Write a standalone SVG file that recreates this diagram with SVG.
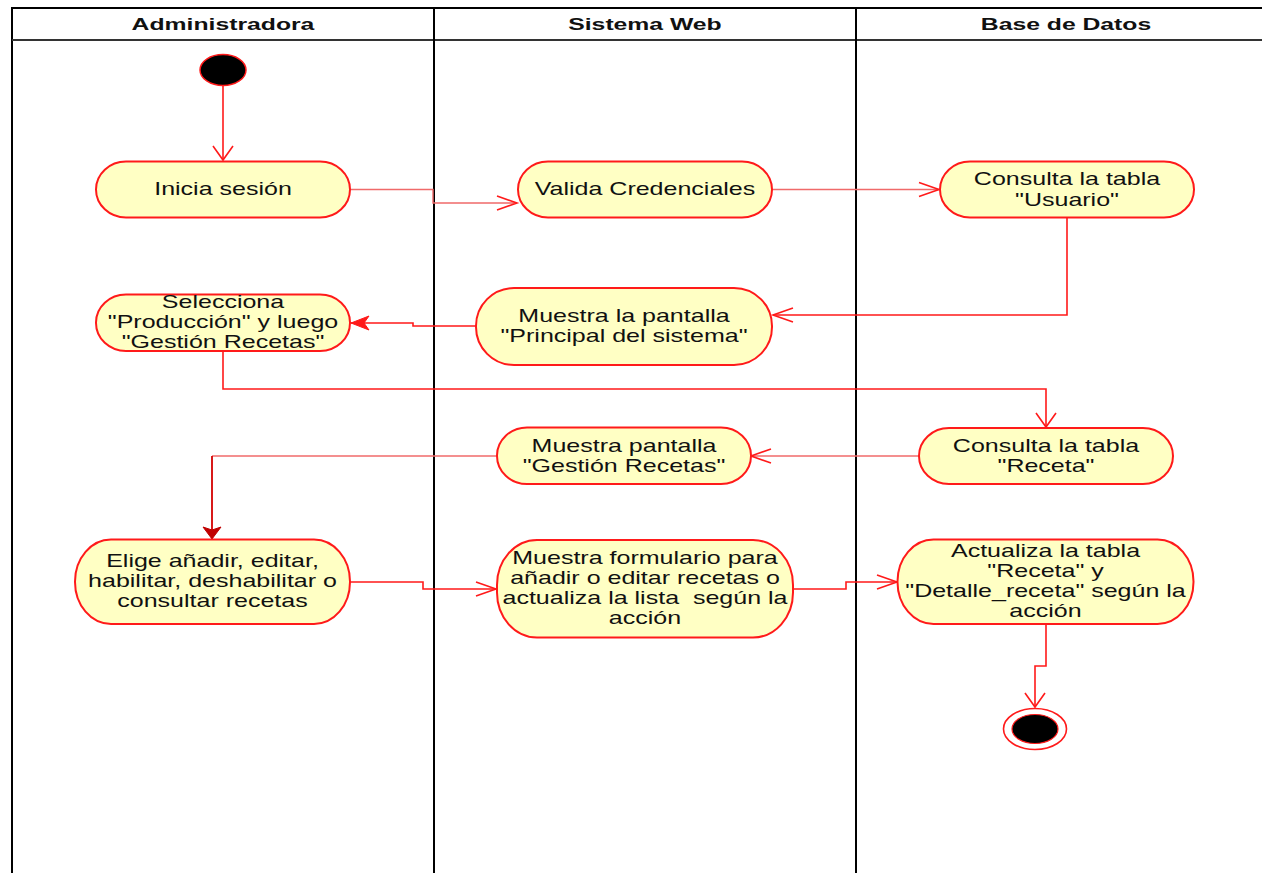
<svg xmlns="http://www.w3.org/2000/svg" width="1262" height="873" viewBox="0 0 1262 873">
<style>
.lane{stroke:#000;stroke-width:2;fill:none}
.hdr{font-family:"Liberation Sans",Arial,sans-serif;font-weight:bold;font-size:16.5px;fill:#111;text-anchor:middle}
.node{fill:#ffffc4;stroke:#ff1a1a;stroke-width:2}
.t{font-family:"Liberation Sans",Arial,sans-serif;font-size:17.5px;fill:#111;text-anchor:middle}
.c{fill:none;stroke:#ff1a1a;stroke-width:1.6}
.cl{fill:none;stroke:#f06a6a;stroke-width:1.4}
</style>
<defs>
<marker id="openH" markerUnits="userSpaceOnUse" markerWidth="22" markerHeight="18" refX="20" refY="8" orient="auto" overflow="visible">
<path d="M0,1 L20,8 L0,15" fill="none" stroke="#ff1a1a" stroke-width="1.6"/>
</marker>
<marker id="openV" markerUnits="userSpaceOnUse" markerWidth="16" markerHeight="24" refX="14" refY="10" orient="auto" overflow="visible">
<path d="M0,0 L14,10 L0,20" fill="none" stroke="#ff1a1a" stroke-width="1.6"/>
</marker>
<marker id="fillH" markerUnits="userSpaceOnUse" markerWidth="20" markerHeight="16" refX="18" refY="7" orient="auto" overflow="visible">
<path d="M0,0 L18,7 L0,14 L5,7 Z" fill="#ff1a1a" stroke="#ff1a1a" stroke-width="1"/>
</marker>
<marker id="fillV" markerUnits="userSpaceOnUse" markerWidth="16" markerHeight="22" refX="12" refY="9" orient="auto" overflow="visible">
<path d="M0,0 L12,9 L0,18 L3,9 Z" fill="#c00000" stroke="#c00000" stroke-width="1"/>
</marker>
</defs>

<g id="lanes">
<path class="lane" d="M12,873 V8 H1262"/>
<path d="M12,40 H1262" stroke="#333" stroke-width="2"/>
<path class="lane" d="M434,8 V873"/>
<path class="lane" d="M856,8 V873"/>
<text class="hdr" transform="translate(223 0) scale(1.5 1)" x="0" y="30">Administradora</text>
<text class="hdr" transform="translate(645 0) scale(1.5 1)" x="0" y="30">Sistema Web</text>
<text class="hdr" transform="translate(1066 0) scale(1.5 1)" x="0" y="30">Base de Datos</text>
</g>

<g id="connectors">
<path class="c" d="M223,86 V160" marker-end="url(#openV)"/>
<path class="cl" d="M350,189.5 H433 V203 H517" marker-end="url(#openH)"/>
<path class="cl" d="M772,189.5 H939" marker-end="url(#openH)"/>
<path class="c" stroke-width="2" d="M1067,217 V315 H773" marker-end="url(#openH)"/>
<path class="c" d="M476,326 H413 V323 H351" marker-end="url(#fillH)"/>
<path class="c" d="M223,351 V389 H1046 V427" marker-end="url(#openV)"/>
<path class="cl" d="M919,456 H751" marker-end="url(#openH)"/>
<path class="cl" d="M497,456 H212"/>
<path fill="none" stroke="#d40000" stroke-width="1.8" d="M212,456 V539" marker-end="url(#fillV)"/>
<path class="c" d="M350,582 H423 V589 H496" marker-end="url(#openH)"/>
<path class="c" d="M793,589 H846 V582 H897" marker-end="url(#openH)"/>
<path class="c" d="M1046,624 V666 H1035 V707" marker-end="url(#openV)"/>
</g>

<g id="start">
<ellipse cx="223" cy="70" rx="23" ry="15.5" fill="#000" stroke="#ff1a1a" stroke-width="1.5"/>
</g>

<g id="n1">
<rect class="node" x="96" y="161.5" width="254" height="56" rx="30" ry="28"/>
<text class="t" transform="translate(223 0) scale(1.43 1)"><tspan x="0" y="195">Inicia sesión</tspan></text>
</g>

<g id="n2">
<rect class="node" x="518" y="161.5" width="254" height="56" rx="30" ry="28"/>
<text class="t" transform="translate(645 0) scale(1.43 1)"><tspan x="0" y="195">Valida Credenciales</tspan></text>
</g>

<g id="n3">
<rect class="node" x="940" y="161.5" width="254" height="56" rx="30" ry="28"/>
<text class="t" transform="translate(1067 0) scale(1.43 1)"><tspan x="0" y="185">Consulta la tabla</tspan><tspan x="0" y="206">"Usuario"</tspan></text>
</g>

<g id="n4">
<rect class="node" x="96" y="294.5" width="254" height="56.5" rx="30" ry="28"/>
<text class="t" transform="translate(223 0) scale(1.43 1)"><tspan x="0" y="308">Selecciona</tspan><tspan x="0" y="328.5">"Producción" y luego</tspan><tspan x="0" y="348.5">"Gestión Recetas"</tspan></text>
</g>

<g id="n5">
<rect class="node" x="476" y="288" width="296" height="77" rx="38" ry="38"/>
<text class="t" transform="translate(624 0) scale(1.43 1)"><tspan x="0" y="322">Muestra la pantalla</tspan><tspan x="0" y="342.5">"Principal del sistema"</tspan></text>
</g>

<g id="n6">
<rect class="node" x="919" y="428" width="254" height="56" rx="30" ry="28"/>
<text class="t" transform="translate(1046 0) scale(1.43 1)"><tspan x="0" y="452">Consulta la tabla</tspan><tspan x="0" y="472.5">"Receta"</tspan></text>
</g>

<g id="n7">
<rect class="node" x="497" y="427.5" width="254" height="56.5" rx="30" ry="28"/>
<text class="t" transform="translate(624 0) scale(1.43 1)"><tspan x="0" y="452">Muestra pantalla</tspan><tspan x="0" y="472.5">"Gestión Recetas"</tspan></text>
</g>

<g id="n8">
<rect class="node" x="75" y="539.5" width="275" height="84.5" rx="36" ry="42"/>
<text class="t" transform="translate(212.5 0) scale(1.43 1)"><tspan x="0" y="567">Elige añadir, editar,</tspan><tspan x="0" y="587.5">habilitar, deshabilitar o</tspan><tspan x="0" y="607.5">consultar recetas</tspan></text>
</g>

<g id="n9">
<rect class="node" x="497" y="540" width="296" height="97.5" rx="40" ry="45"/>
<text class="t" style="white-space:pre" transform="translate(645 0) scale(1.43 1)"><tspan x="0" y="564">Muestra formulario para</tspan><tspan x="0" y="584.5">añadir o editar recetas o</tspan><tspan x="0" y="604.5">actualiza la lista  según la</tspan><tspan x="0" y="624.5">acción</tspan></text>
</g>

<g id="n10">
<rect class="node" x="897.5" y="539.5" width="296" height="84.5" rx="36" ry="42"/>
<text class="t" transform="translate(1045.5 0) scale(1.43 1)"><tspan x="0" y="557">Actualiza la tabla</tspan><tspan x="0" y="577.5">"Receta" y</tspan><tspan x="0" y="597.5">"Detalle_receta" según la</tspan><tspan x="0" y="617.5">acción</tspan></text>
</g>

<g id="end">
<ellipse cx="1035" cy="729" rx="31.5" ry="20.5" fill="#fff" stroke="#ff1a1a" stroke-width="1.6"/>
<ellipse cx="1035" cy="729" rx="23" ry="14.5" fill="#000" stroke="#ff1a1a" stroke-width="1.2"/>
</g>
</svg>
